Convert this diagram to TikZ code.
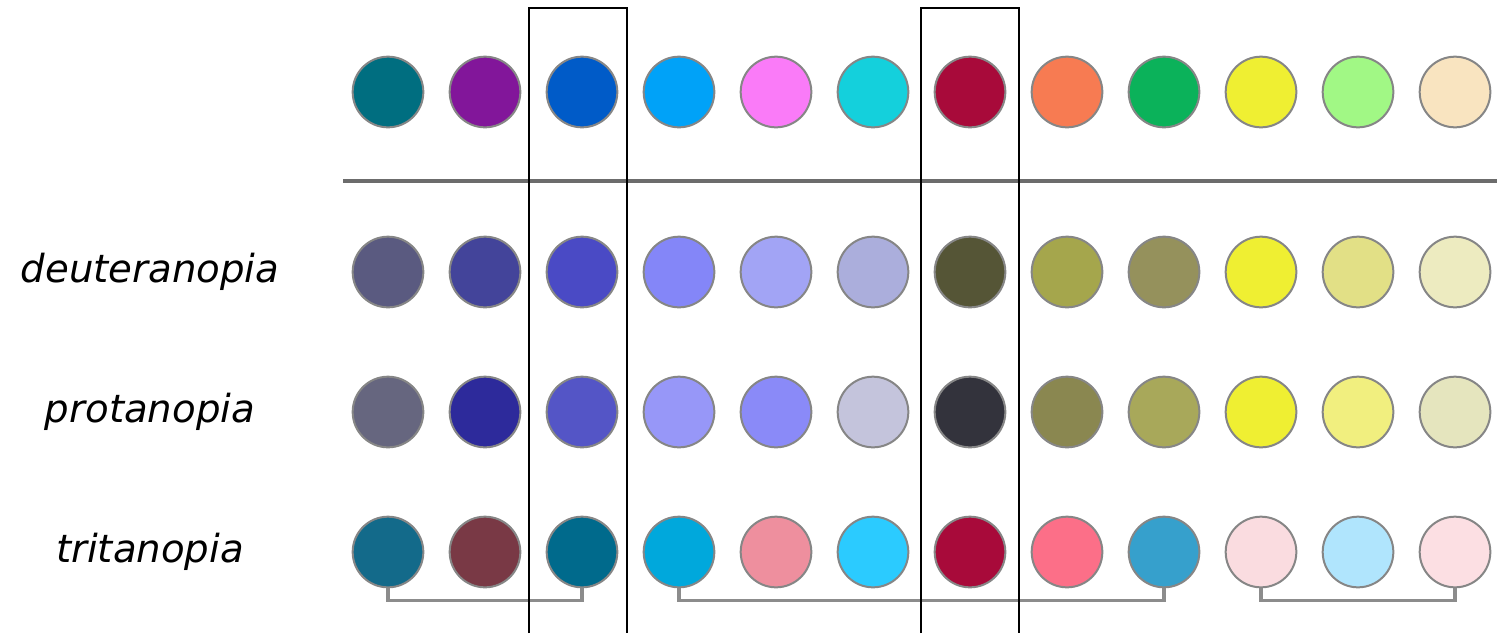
\documentclass[tikz,border=0pt]{standalone}
\usepackage{fontspec}
\setmainfont{DejaVu Sans}

\tikzset{
    dot/.style={circle, draw=gray!95, line width=1.5pt, minimum size=53pt, inner sep=0pt},
    lbl/.style={font=\fontsize{29}{33}\selectfont\itshape},
    bracket/.style={draw=gray!90, line width=2.4pt},
}

\begin{document}
\begin{tikzpicture}[x=0.75pt, y=-0.75pt]
    \useasboundingbox (0,0) rectangle (1501,633);
    % original colours
    \foreach \hex [count=\i] in {006E80,82169A,005BC8,00A2F8,FA7BF8,14D0DC,A80A3A,F77B52,0BB25A,EFEF32,A1F885,F9E4C0} {
        \definecolor{dotfill}{HTML}{\hex}
        \node[dot, fill=dotfill] (orig-\i) at ({291+97*\i},92) {};
    }
    \draw[gray!85!black, line width=3pt] (343,181) -- (1497,181);
    % simulated colours
    \node[lbl] (deut) at (150,272) {deuteranopia};
    \foreach \hex [count=\i] in {5A5A80,43449A,4A4AC5,8486F8,A2A4F5,ABAEDC,555536,A5A64C,95915C,EFEF32,E2E086,EDEBC0} {
        \definecolor{dotfill}{HTML}{\hex}
        \node[dot, fill=dotfill] (deut-\i) at ({291+97*\i},272) {};
    }
    \node[lbl] (prot) at (150,412) {protanopia};
    \foreach \hex [count=\i] in {66667F,2D2A9B,5455C6,9797F8,8A8AF8,C4C4DC,33333C,8A8750,A8A85A,EFEF32,F1EF7F,E5E5BE} {
        \definecolor{dotfill}{HTML}{\hex}
        \node[dot, fill=dotfill] (prot-\i) at ({291+97*\i},412) {};
    }
    \node[lbl] (trit) at (150,552) {tritanopia};
    \foreach \hex [count=\i] in {136A8A,793945,006A8C,00A8DC,EE8F9E,2BCBFF,A80A3A,FC6F88,36A0CC,FADCE0,B0E5FD,FCDFE3} {
        \definecolor{dotfill}{HTML}{\hex}
        \node[dot, fill=dotfill] (trit-\i) at ({291+97*\i},552) {};
    }
    % brackets under tritanopia
    \draw[bracket] (trit-1.south) -- ++(0,12) -| (trit-3.south);
    \draw[bracket] (trit-4.south) -- ++(0,12) -| (trit-9.south);
    \draw[bracket] (trit-10.south) -- ++(0,12) -| (trit-12.south);
    % highlight frames
    \draw[line width=2.2pt] (529,633) |- (627,8) -- (627,633);
    \draw[line width=2.2pt] (921,633) |- (1019,8) -- (1019,633);
\end{tikzpicture}
\end{document}
